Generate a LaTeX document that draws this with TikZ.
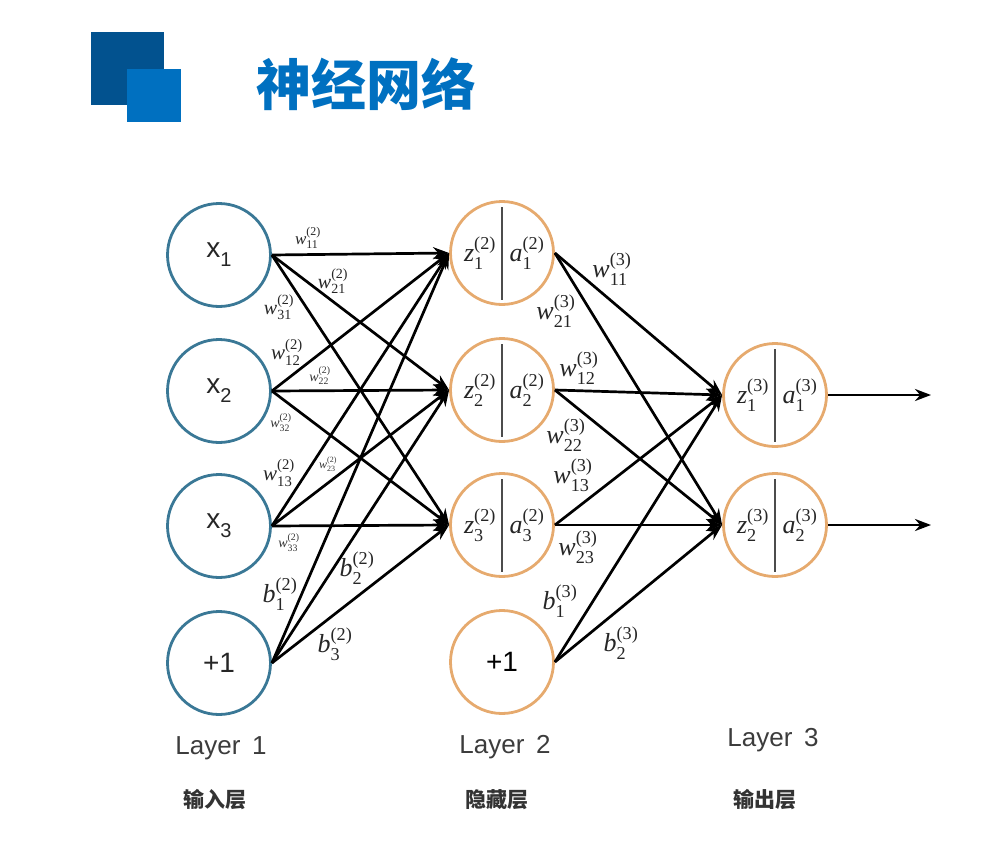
\documentclass[tikz,border=0pt]{standalone}
\usepackage{amsmath}
\usepackage{fontspec}
\setmainfont{Liberation Sans}
\newfontfamily\tms{Liberation Serif}
\newfontfamily\cjk{Noto Sans CJK SC}
\usetikzlibrary{arrows.meta}

\definecolor{hdrdark}{HTML}{02528F}
\definecolor{hdrlight}{HTML}{0070C0}
\definecolor{inring}{HTML}{3A7896}
\definecolor{hidring}{HTML}{E6AA6E}
\definecolor{captxt}{HTML}{3C3C3C}

\newcommand{\fsz}[1]{\fontsize{#1}{#1}\selectfont}
% italic symbol with upright upper and lower index, all in a Times-like face
\newcommand{\lbl}[3]{$\text{\tms\itshape #1}^{\text{\tms #2}}_{\text{\tms #3}}$}

\begin{document}
\begin{tikzpicture}[x=1pt,y=-1pt,
  neuron/.style={circle,draw,line width=2.8pt,minimum size=103pt,inner sep=0pt},
  innode/.style={neuron,draw=inring,text=black!85},
  hidnode/.style={neuron,draw=hidring},
  link/.style={line width=2.7pt,-{Stealth[length=16pt,width=12pt]}},
  divider/.style={line width=1.8pt,draw=black!70},
  cell/.style={inner sep=0pt,font=\fsz{26},text=black!85},
  wbig/.style={inner sep=0pt,font=\fsz{26},text=black!85},
  wmid/.style={inner sep=0pt,font=\fsz{20},text=black!85},
  wsmall/.style={inner sep=0pt,font=\fsz{14},text=black!80},
  layertxt/.style={inner sep=0pt,font=\fsz{26},text=captxt},
  cntxt/.style={inner sep=0pt,font=\cjk\bfseries\fsz{21},text=black!80},
]
\useasboundingbox (0,0) rectangle (998,864);

% header
\fill[hdrdark] (91,32) rectangle (164,105);
\fill[hdrlight] (127,69) rectangle (181,122);
\node[inner sep=0pt,font=\cjk\bfseries\fsz{55},text=hdrlight] (title) at (366,84) {神经网络};

% input layer
\node[innode,font=\fsz{28}] (x1) at (219,255) {x\raisebox{-0.32em}{\fsz{20}1}};
\node[innode,font=\fsz{28}] (x2) at (219,391) {x\raisebox{-0.32em}{\fsz{20}2}};
\node[innode,font=\fsz{28}] (x3) at (219,526) {x\raisebox{-0.32em}{\fsz{20}3}};
\node[innode,font=\fsz{28}] (b1) at (219,663) {+1};

% hidden layer
\node[hidnode] (h1) at (502,253) {};
\node[hidnode] (h2) at (502,390) {};
\node[hidnode] (h3) at (502,525) {};
\node[hidnode,font=\fsz{28}] (b2) at (502,662) {+1};

% output layer
\node[hidnode] (o1) at (775,395) {};
\node[hidnode] (o2) at (775,525) {};

% split cells
\foreach \n in {h1,h2,h3,o1,o2}
  \draw[divider] (\n.center) ++(0,-46) -- ++(0,93);

\node[cell] (h1z) at (480,253) {\lbl{z}{(2)}{1}};
\node[cell] (h1a) at (527,253) {\lbl{a}{(2)}{1}};
\node[cell] (h2z) at (480,390) {\lbl{z}{(2)}{2}};
\node[cell] (h2a) at (527,390) {\lbl{a}{(2)}{2}};
\node[cell] (h3z) at (480,525) {\lbl{z}{(2)}{3}};
\node[cell] (h3a) at (527,525) {\lbl{a}{(2)}{3}};
\node[cell] (o1z) at (753,395) {\lbl{z}{(3)}{1}};
\node[cell] (o1a) at (800,395) {\lbl{a}{(3)}{1}};
\node[cell] (o2z) at (753,525) {\lbl{z}{(3)}{2}};
\node[cell] (o2a) at (800,525) {\lbl{a}{(3)}{2}};

% connections
\foreach \s in {x1,x2,x3,b1}
  \foreach \t in {h1,h2,h3}
    \draw[link] (\s.east) -- (\t.west);
\foreach \s in {h1,h2,h3,b2}
  \foreach \t in {o1,o2}
    \draw[link] (\s.east) -- (\t.west);

\coordinate (y1) at (931,395);
\coordinate (y2) at (931,525);
\draw[link] (o1.east) -- (y1);
\draw[link] (o2.east) -- (y2);

% weights, first layer
\node[wmid,font=\fsz{17}] (w11a) at (308,238) {\lbl{w}{(2)}{11}};
\node[wmid] (w21a) at (333,281) {\lbl{w}{(2)}{21}};
\node[wmid] (w31a) at (279,307) {\lbl{w}{(2)}{31}};
\node[wmid,font=\fsz{21}] (w12a) at (287,352) {\lbl{w}{(2)}{12}};
\node[wsmall] (w22a) at (320,376) {\lbl{w}{(2)}{22}};
\node[wsmall] (w32a) at (281,423) {\lbl{w}{(2)}{32}};
\node[wmid,font=\fsz{21}] (w13a) at (279,473) {\lbl{w}{(2)}{13}};
\node[wsmall,font=\fsz{12}] (w23a) at (328,464) {\lbl{w}{(2)}{23}};
\node[wsmall] (w33a) at (289,543) {\lbl{w}{(2)}{33}};
\node[wbig] (bb1) at (280,594) {\lbl{b}{(2)}{1}};
\node[wbig] (bb2) at (357,568) {\lbl{b}{(2)}{2}};
\node[wbig] (bb3) at (335,644) {\lbl{b}{(2)}{3}};

% weights, second layer
\node[wbig] (w11b) at (612,269) {\lbl{w}{(3)}{11}};
\node[wbig] (w21b) at (556,311) {\lbl{w}{(3)}{21}};
\node[wbig] (w12b) at (579,368) {\lbl{w}{(3)}{12}};
\node[wbig] (w22b) at (566,435) {\lbl{w}{(3)}{22}};
\node[wbig] (w13b) at (573,475) {\lbl{w}{(3)}{13}};
\node[wbig] (w23b) at (578,547) {\lbl{w}{(3)}{23}};
\node[wbig] (bc1) at (560,601) {\lbl{b}{(3)}{1}};
\node[wbig] (bc2) at (621,643) {\lbl{b}{(3)}{2}};

% captions
\node[layertxt] (lay1) at (221,748) {Layer\hspace{0.45em}1};
\node[layertxt] (lay2) at (505,747) {Layer\hspace{0.45em}2};
\node[layertxt] (lay3) at (773,740) {Layer\hspace{0.45em}3};
\node[cntxt] (cn1) at (215,800) {输入层};
\node[cntxt] (cn2) at (497,800) {隐藏层};
\node[cntxt] (cn3) at (765,800) {输出层};
\end{tikzpicture}
\end{document}
